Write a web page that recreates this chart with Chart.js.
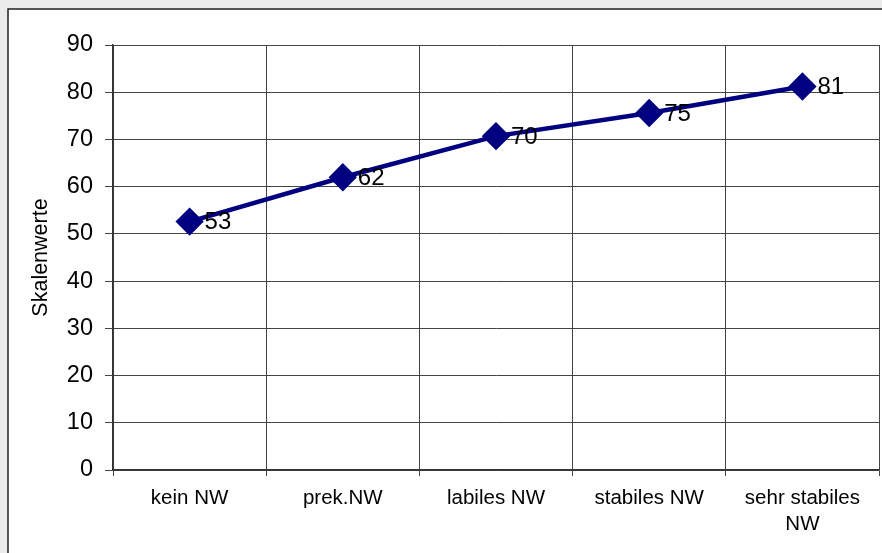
<!DOCTYPE html>
<html lang="de">

<head>
    <meta charset="UTF-8" />
    <title>Skalenwerte</title>
    <script src="https://cdn.jsdelivr.net/npm/chart.js"></script>
    <style>
        body { margin: 0; background: #ebebeb; }
        #wrap { width: 882px; height: 553px; }
    </style>
</head>

<body>
    <div id="wrap"><canvas id="chart" width="882" height="553"></canvas></div>
    <script>
        // Kategorien und Werte
        const kategorien = ["kein NW", "prek.NW", "labiles NW", "stabiles NW", ["sehr stabiles", "NW"]];
        const skalenwerte = [52.6, 62.0, 70.7, 75.6, 81.2];
        const wertLabels = ["53", "62", "70", "75", "81"];
        const yTicks = [0, 10, 20, 30, 40, 50, 60, 70, 80, 90];

        const FONT = "'Liberation Sans', Arial, sans-serif";

        // grosse Marker sollen keinen Extra-Rand im Layout erzeugen
        Chart.LineController.prototype.getMaxOverflow = function () { return 0; };

        // grauer Rand + weisse Flaeche mit Rahmen
        const hintergrund = {
            id: "hintergrund",
            beforeDraw(chart) {
                const c = chart.ctx;
                c.save();
                c.fillStyle = "#ebebeb";
                c.fillRect(0, 0, chart.width, chart.height);
                c.fillStyle = "#ffffff";
                c.fillRect(8, 9, chart.width, chart.height);
                c.strokeStyle = "#222";
                c.lineWidth = 1.5;
                c.strokeRect(8, 9, chart.width + 10, chart.height + 10);
                c.restore();
            }
        };

        // Datenbeschriftung rechts neben den Punkten
        const wertBeschriftung = {
            id: "wertBeschriftung",
            afterDatasetsDraw(chart) {
                const c = chart.ctx;
                const meta = chart.getDatasetMeta(0);
                c.save();
                c.font = "24px " + FONT;
                c.fillStyle = "#000";
                c.textAlign = "left";
                c.textBaseline = "middle";
                meta.data.forEach((pt, i) => {
                    c.fillText(wertLabels[i], pt.x + 15, pt.y + 1);
                });
                c.restore();
            }
        };

        const ctx = document.getElementById("chart").getContext("2d");
        new Chart(ctx, {
            type: "line",
            data: {
                labels: kategorien,
                datasets: [{
                    data: skalenwerte,
                    borderColor: "#000080",
                    backgroundColor: "#000080",
                    borderWidth: 4.5,
                    pointStyle: "rectRot",
                    pointRadius: 11,
                    pointHoverRadius: 11,
                    tension: 0,
                    clip: false,
                }],
            },
            options: {
                responsive: false,
                animation: false,
                layout: { padding: { top: 45, right: 3, left: 0, bottom: 0 } },
                plugins: {
                    legend: { display: false },
                    tooltip: { enabled: false },
                },
                scales: {
                    x: {
                        offset: true,
                        grid: {
                            offset: true,
                            color: "#444",
                            tickColor: "#444",
                            tickLength: 6,
                        },
                        border: { color: "#333", width: 1.5 },
                        ticks: {
                            color: "#000",
                            font: { family: FONT, size: 20.5, lineHeight: 1.25 },
                            padding: 10,
                            maxRotation: 0,
                            autoSkip: false,
                        },
                        afterFit(scale) {
                            scale.height = 83;
                            scale.paddingLeft = 0;
                            scale.paddingRight = 0;
                        },
                    },
                    y: {
                        min: 0,
                        max: 90,
                        afterBuildTicks(scale) {
                            scale.ticks = yTicks.map((v) => ({ value: v }));
                        },
                        grid: {
                            color: "#444",
                            tickColor: "#444",
                            tickLength: 8,
                        },
                        border: { color: "#333", width: 1.5 },
                        ticks: {
                            color: "#000",
                            font: { family: FONT, size: 23.5 },
                            padding: 12,
                        },
                        title: {
                            display: true,
                            text: "Skalenwerte",
                            color: "#000",
                            font: { family: FONT, size: 21.5 },
                            padding: { top: 28, bottom: 0 },
                        },
                        afterFit(scale) { scale.width = 113; },
                    },
                },
            },
            plugins: [hintergrund, wertBeschriftung],
        });
    </script>
</body>

</html>
